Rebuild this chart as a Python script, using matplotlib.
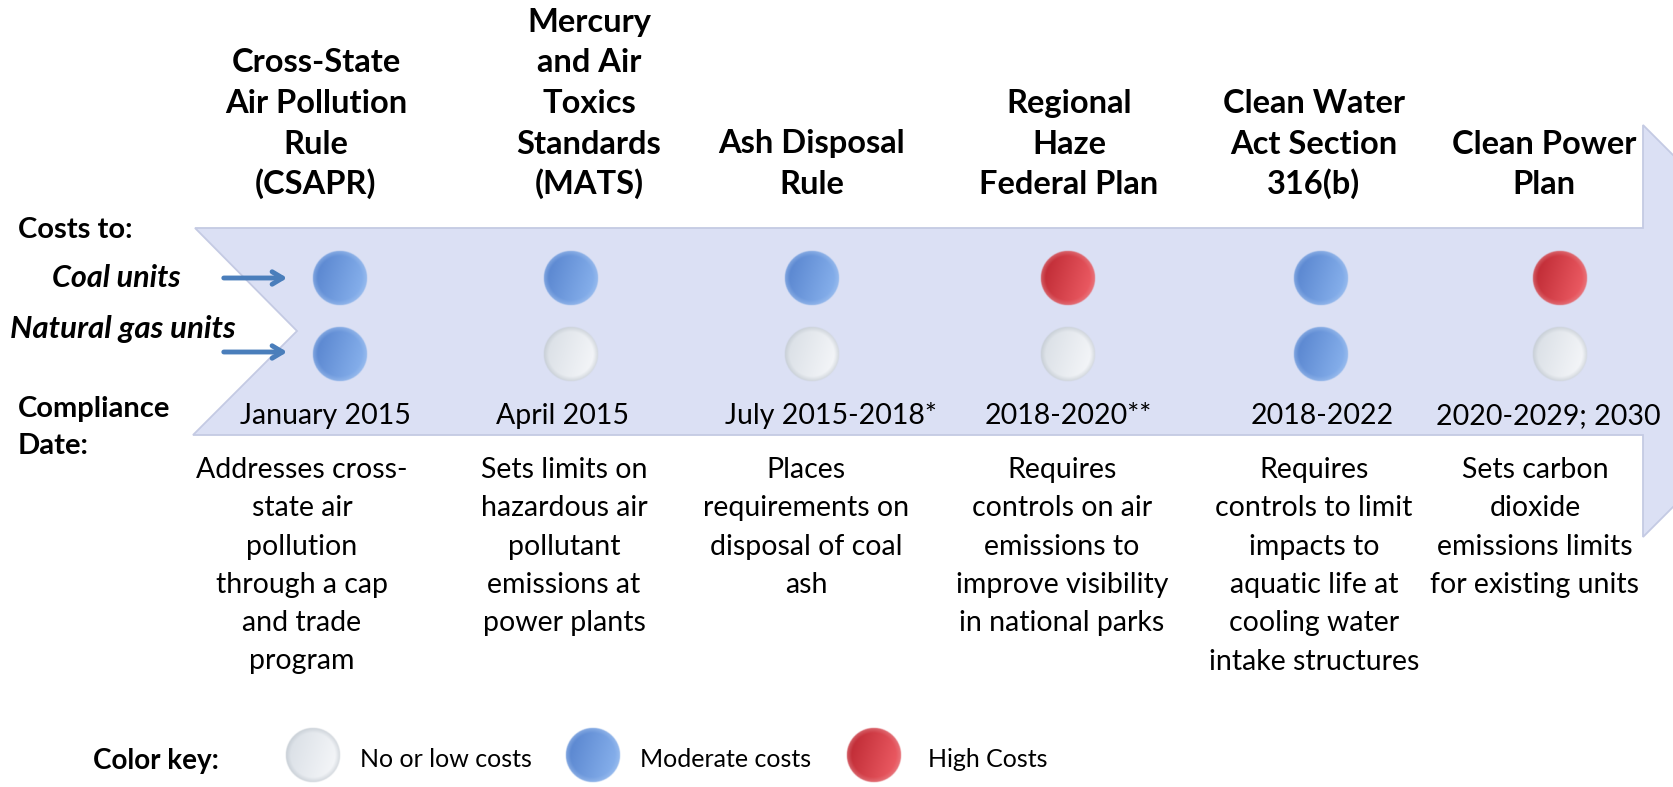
import numpy as np
import matplotlib
matplotlib.use("Agg")
import matplotlib.pyplot as plt
from matplotlib.patches import Polygon
from matplotlib.colors import to_rgb

plt.rcParams['font.family'] = ['Lato', 'DejaVu Sans']

# Rules, their compliance dates and descriptions
titles = [
    ["Cross-State", "Air Pollution", "Rule", "(CSAPR)"],
    ["Mercury", "and Air", "Toxics", "Standards", "(MATS)"],
    ["Ash Disposal", "Rule"],
    ["Regional", "Haze", "Federal Plan"],
    ["Clean Water", "Act Section", "316(b)"],
    ["Clean Power", "Plan"],
]
dates = ["January 2015", "April 2015", "July 2015-2018*", "2018-2020**",
         "2018-2022", "2020-2029; 2030"]
descriptions = [
    ["Addresses cross-", "state air", "pollution", "through a cap", "and trade", "program"],
    ["Sets limits on", "hazardous air", "pollutant", "emissions at", "power plants"],
    ["Places", "requirements on", "disposal of coal", "ash"],
    ["Requires", "controls on air", "emissions to", "improve visibility", "in national parks"],
    ["Requires", "controls to limit", "impacts to", "aquatic life at", "cooling water",
     "intake structures"],
    ["Sets carbon", "dioxide", "emissions limits", "for existing units"],
]
# cost levels: 0 = no or low, 1 = moderate, 2 = high
coal_costs = [1, 1, 1, 2, 1, 2]
gas_costs = [1, 0, 0, 0, 1, 0]
key_labels = ["No or low costs", "Moderate costs", "High Costs"]

# ball colours per level: (dark, light, rim)
BALL_COLORS = [
    ("#d6dce3", "#f9fafc", "#b8c0c8"),
    ("#527fcb", "#8fb8f1", "#a3c2ee"),
    ("#b8232d", "#f4646c", "#e3878d"),
]

# layout (pixel coordinates, y downward)
W, H = 1674, 787
col_x = [340, 571, 812, 1068, 1321, 1560]
title_x = [316, 589, 812, 1069, 1314, 1544]
date_x = [325, 563, 831, 1068, 1322, 1548]
desc_x = [302, 564, 806, 1062, 1314, 1535]
coal_y, gas_y, R = 278, 354, 28


def ball(ax, x, y, r, level):
    dark, light, rim = [np.array(to_rgb(c)) for c in BALL_COLORS[level]]
    n = 90
    g = np.linspace(-1, 1, n)
    u, v = np.meshgrid(g, g)
    d = np.hypot(u, v)
    t = np.clip(0.5 + 0.38 * u + 0.12 * v, 0, 1)[..., None]
    col = dark * (1 - t) + light * t
    rw = np.clip((d - 0.8) / 0.2, 0, 1)[..., None] * 0.6
    col = col * (1 - rw) + rim * rw
    alpha = np.clip((1 - d) * r * 0.9, 0, 1)
    img = np.dstack([col, alpha])
    ax.imshow(img, extent=(x - r, x + r, y + r, y - r), origin='upper',
              interpolation='bilinear', zorder=3)


fig = plt.figure(figsize=(W / 100, H / 100), dpi=100)
ax = fig.add_axes([0, 0, 1, 1])
ax.set_xlim(0, W)
ax.set_ylim(H, 0)
ax.axis('off')

# big timeline arrow
body = Polygon([(195, 228), (1643, 228), (1643, 125), (1849, 331), (1643, 537),
                (1643, 435), (193, 435), (297, 331)], closed=True,
               facecolor='#dbe0f4', edgecolor='#c4cae3', lw=1.3, zorder=1)
ax.add_patch(body)

# column titles (bottom aligned)
for x, lines in zip(title_x, titles):
    for i, line in enumerate(reversed(lines)):
        ax.text(x, 194 - i * 40.5, line, ha='center', va='baseline',
                fontsize=23.5, fontweight='bold', color='black')

# cost balls
for x, c, g in zip(col_x, coal_costs, gas_costs):
    ball(ax, x, coal_y, R, c)
    ball(ax, x, gas_y, R, g)

# dates
for x, d in zip(date_x, dates):
    ax.text(x, 424, d, ha='center', va='baseline', fontsize=20.5, color='black')

# descriptions
for x, lines in zip(desc_x, descriptions):
    for i, line in enumerate(lines):
        ax.text(x, 478 + i * 38.3, line, ha='center', va='baseline',
                fontsize=20.5, color='black')

# row labels
lab = dict(fontsize=21, fontweight='bold', va='baseline')
ax.text(18, 238, "Costs to:", **lab)
ax.text(52, 287, "Coal units", style='italic', fontsize=22, fontweight='bold',
        va='baseline')
ax.text(10, 338, "Natural gas units", style='italic', fontsize=22.5,
        fontweight='bold', va='baseline')
ax.text(18, 417, "Compliance", **lab)
ax.text(18, 454, "Date:", **lab)

for y in (coal_y, gas_y - 2):
    ax.annotate('', xy=(290, y), xytext=(221, y),
                arrowprops=dict(arrowstyle='->,head_length=0.75,head_width=0.45',
                                lw=3.5, color='#4a7ebb'), zorder=2)

# colour key
ax.text(93, 769, "Color key:", fontsize=20, fontweight='bold', va='baseline')
key_ball_x = [313, 593, 874]
key_text_x = [360, 640, 928]
for lvl, (bx, tx, lbl) in enumerate(zip(key_ball_x, key_text_x, key_labels)):
    ball(ax, bx, 755, R, lvl)
    ax.text(tx, 767, lbl, fontsize=18, va='baseline')

fig.savefig("out.png", dpi=100)
